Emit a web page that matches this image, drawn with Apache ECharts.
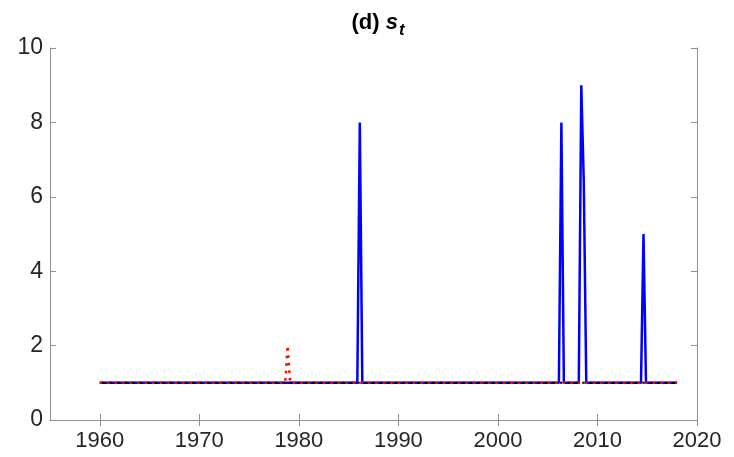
<!DOCTYPE html>
<html>
<head>
<meta charset="utf-8">
<script src="https://cdn.jsdelivr.net/npm/echarts@6/dist/echarts.min.js"></script>
<style>
  html, body { margin: 0; padding: 0; background: #fff; }
  #chart { width: 734px; height: 457px; }
</style>
</head>
<body>
<div id="chart"></div>
<script>
// x ticks (years) and y ticks
const xTicks = [1960, 1970, 1980, 1990, 2000, 2010, 2020];

// s_t, blue solid: flat at 1 with spikes (quarterly dates)
const bluePts = [
  [1960, 1], [1985.875, 1], [1986.125, 8], [1986.375, 1],
  [2006.125, 1], [2006.375, 8], [2006.625, 1],
  [2008.125, 1], [2008.375, 9], [2008.625, 6.4], [2008.875, 1],
  [2014.375, 1], [2014.625, 5], [2014.875, 1],
  [2018.0, 1]
];
// red dotted: one spike to 2 near 1979
const redPts = [[1960, 1], [1978.625, 1], [1978.875, 2], [1979.125, 1], [2018.0, 1]];
// black dotted: flat at 1
const blackPts = [[1960, 1], [2018.0, 1]];

const axisGrey = '#8f8f8f';
const labelColor = '#262626';
const font = '"Liberation Sans", Arial, Helvetica, sans-serif';

const chart = echarts.init(document.getElementById('chart'), null, { renderer: 'canvas' });

chart.setOption({
  animation: false,
  backgroundColor: '#ffffff',
  title: {
    text: '{b|(d) }{s|s}{t|t}',
    left: 373, top: 2, textAlign: 'center',
    textStyle: {
      rich: {
        b: { fontFamily: font, fontWeight: 'bold', fontSize: 22, color: '#000' },
        s: { fontFamily: font, fontWeight: 'bold', fontStyle: 'italic', fontSize: 22, color: '#000' },
        t: { fontFamily: font, fontWeight: 'bold', fontStyle: 'italic', fontSize: 17, color: '#000', padding: [15, 0, 0, 1] }
      }
    }
  },
  grid: { left: 50, right: 37, top: 48, bottom: 37 },
  xAxis: [
    {
      type: 'value', min: 1955, max: 2020,
      axisLine: { show: true, lineStyle: { color: axisGrey, width: 1 } },
      axisTick: { show: true, inside: true, length: 6, customValues: xTicks, lineStyle: { color: axisGrey } },
      axisLabel: { customValues: xTicks, formatter: v => String(v), color: labelColor, fontSize: 22, fontFamily: font, margin: 10 },
      splitLine: { show: false }
    },
    {
      type: 'value', min: 1955, max: 2020, position: 'top',
      axisLine: { show: true, lineStyle: { color: axisGrey, width: 1 } },
      axisTick: { show: true, inside: true, length: 6, customValues: xTicks, lineStyle: { color: axisGrey } },
      axisLabel: { show: false },
      splitLine: { show: false }
    }
  ],
  yAxis: [
    {
      type: 'value', min: 0, max: 10, interval: 2,
      axisLine: { show: true, lineStyle: { color: axisGrey, width: 1 } },
      axisTick: { show: true, inside: true, length: 6, lineStyle: { color: axisGrey } },
      axisLabel: { color: labelColor, fontSize: 23, fontFamily: font, margin: 7 },
      splitLine: { show: false }
    },
    {
      type: 'value', min: 0, max: 10, interval: 2, position: 'right',
      axisLine: { show: true, lineStyle: { color: axisGrey, width: 1 } },
      axisTick: { show: true, inside: true, length: 6, lineStyle: { color: axisGrey } },
      axisLabel: { show: false },
      splitLine: { show: false }
    }
  ],
  series: [
    {
      type: 'line', data: bluePts, showSymbol: false, z: 2,
      lineStyle: { color: '#0000ff', width: 2.5 }
    },
    {
      type: 'line', data: redPts, showSymbol: false, z: 3,
      lineStyle: { color: '#ff0000', width: 2.5, type: [2.5, 5] }
    },
    {
      type: 'line', data: blackPts, showSymbol: false, z: 4,
      lineStyle: { color: '#000000', width: 2, type: [2.5, 5], dashOffset: -2.5 }
    }
  ]
});
</script>
</body>
</html>
